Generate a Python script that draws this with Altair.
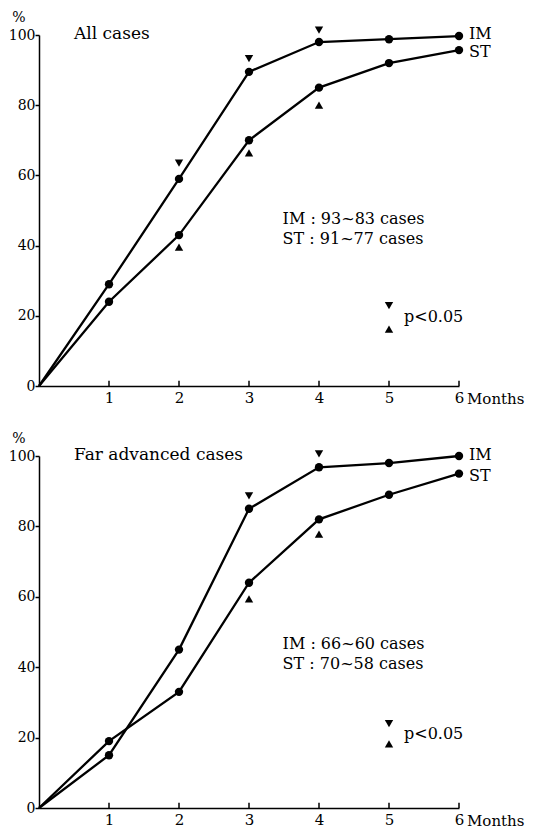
import altair as alt
import pandas as pd

months = [0, 1, 2, 3, 4, 5, 6]
xticks = [1, 2, 3, 4, 5, 6]
yticks = [0, 20, 40, 60, 80, 100]

# Panel 1: All cases
im_all = [0, 29, 59, 89.5, 98, 98.8, 99.7]
st_all = [0, 24, 43, 70, 85, 92, 95.7]
dn_all_m = [2, 3, 4]
dn_all_v = [63.5, 93.3, 101.4]
up_all_m = [2, 3, 4]
up_all_v = [39.6, 66.4, 80]

# Panel 2: Far advanced cases
im_far = [0, 15, 45, 85, 96.8, 98, 100]
st_far = [0, 19, 33, 64, 82, 89, 95]
dn_far_m = [3, 4]
dn_far_v = [88.7, 100.6]
up_far_m = [3, 4]
up_far_v = [59.4, 77.8]

FONT = "DejaVu Serif"
W = 420


def pt_chart(df, shape, size):
    return alt.Chart(df).mark_point(shape=shape, filled=True, size=size,
                                    color="black", opacity=1,
                                    strokeWidth=0).encode(
        x="month:Q", y="value:Q")


def text_chart(df, size, **kw):
    return alt.Chart(df).mark_text(font=FONT, fontSize=size, color="black",
                                   baseline="middle", **kw).encode(
        x="month:Q", y="value:Q", text="label:N")


def panel(title, im, st, dn_m, dn_v, up_m, up_v, leg, cases, case_y,
          end_y, h):
    xs = alt.Scale(domain=[0, 6], nice=False, zero=False)
    ys = alt.Scale(domain=[0, 100], nice=False)
    lines = pd.DataFrame({
        "month": months * 2,
        "value": im + st,
        "series": ["IM"] * 7 + ["ST"] * 7,
    })
    x = alt.X("month:Q", scale=xs, title=None,
              axis=alt.Axis(values=xticks, format="d", ticks=False,
                            labelFlush=False, labelPadding=4,
                            labelFontSize=15, grid=False,
                            domainWidth=1.5, domainColor="black",
                            labelColor="black", labelFont=FONT))
    y = alt.Y("value:Q", scale=ys, title=None,
              axis=alt.Axis(values=yticks, tickSize=4, tickWidth=1.5,
                            labelPadding=0, labelFontSize=14, grid=False,
                            domainWidth=1.5, domainColor="black",
                            tickColor="black", labelColor="black",
                            labelFont=FONT))
    line = alt.Chart(lines).mark_line(color="black", strokeWidth=2.3).encode(
        x=x, y=y, detail="series:N")
    pts = alt.Chart(lines[lines["month"] > 0]).mark_circle(
        size=70, color="black", opacity=1).encode(x="month:Q", y="value:Q")

    tri_dn = pt_chart(pd.DataFrame({"month": dn_m, "value": dn_v}),
                      "triangle-down", 70)
    tri_up = pt_chart(pd.DataFrame({"month": up_m, "value": up_v}),
                      "triangle-up", 70)
    l_dn = pt_chart(pd.DataFrame({"month": [5], "value": [leg[0]]}),
                    "triangle-down", 70)
    l_up = pt_chart(pd.DataFrame({"month": [5], "value": [leg[1]]}),
                    "triangle-up", 70)

    ttl = text_chart(pd.DataFrame({"month": [0.5], "value": [100.3],
                                   "label": [title]}), 17, align="left")
    cs = text_chart(pd.DataFrame({"month": [3.48, 3.48], "value": case_y,
                                  "label": cases}), 16, align="left")
    pv = text_chart(pd.DataFrame({"month": [5], "value": [(leg[0] + leg[1]) / 2],
                                  "label": ["p<0.05"]}), 16, align="left", dx=15)
    end_txt = text_chart(pd.DataFrame({"month": [6, 6], "value": end_y,
                                       "label": ["IM", "ST"]}), 16,
                         align="left", dx=10)
    months_lbl = text_chart(pd.DataFrame({"month": [6], "value": [0],
                                          "label": ["Months"]}), 15,
                            align="left", dx=8, dy=13)
    pct = text_chart(pd.DataFrame({"month": [0], "value": [100],
                                   "label": ["%"]}), 14, align="center",
                     dx=-20, dy=-17)

    tick_df = pd.DataFrame({"month": xticks, "value": [0] * 6,
                            "value2": [1.5] * 6})
    ticks = alt.Chart(tick_df).mark_rule(color="black", strokeWidth=1.5).encode(
        x="month:Q", y="value:Q", y2="value2:Q")

    return alt.layer(line, pts, tri_dn, tri_up, l_dn, l_up, ttl, cs, pv,
                     end_txt, months_lbl, pct, ticks).properties(width=W,
                                                                 height=h)


top = panel("All cases", im_all, st_all, dn_all_m, dn_all_v, up_all_m, up_all_v,
            (22.9, 16.2), ["IM : 93~83 cases", "ST : 91~77 cases"],
            [47.6, 41.9], [100.2, 95.2], 351)
bottom = panel("Far advanced cases", im_far, st_far, dn_far_m, dn_far_v,
               up_far_m, up_far_v, (24, 18.2),
               ["IM : 66~60 cases", "ST : 70~58 cases"], [46.6, 40.9],
               [100.2, 94.4], 352)

chart = alt.vconcat(top, bottom, spacing=70, bounds="flush").properties(
    padding={"left": 0, "top": 3, "right": 0, "bottom": 0}
).configure(background="white").configure_view(stroke=None)

chart.save("out.html", embed_options={"renderer": "svg", "actions": False})
